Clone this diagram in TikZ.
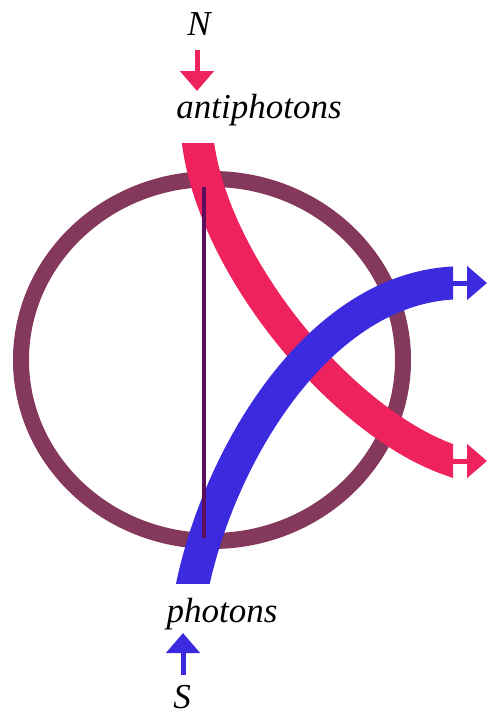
\documentclass[tikz,border=0pt]{standalone}
\usepackage{fontspec}
\setmainfont{Liberation Serif}
\usetikzlibrary{arrows.meta}
\definecolor{ringcol}{RGB}{132,56,92}
\definecolor{antired}{RGB}{238,34,92}
\definecolor{photblue}{RGB}{60,42,222}
\definecolor{axiscol}{RGB}{92,14,92}
\tikzset{
  lbl/.style={font=\fontsize{17.5}{20}\selectfont\itshape, inner sep=0pt, anchor=base},
  band/.style={line width=16pt},
  flowarrow/.style={line width=2.5pt, -{Triangle[length=10pt,width=16.5pt]}}
}
\begin{document}
\begin{tikzpicture}[x=0.5pt,y=-0.5pt]
    \useasboundingbox (0,0) rectangle (491,723);

    % Ring
    \draw[ringcol,line width=8pt] (212,360) ellipse (191 and 181);

    % Antiphoton band from the north
    \coordinate (redIn) at (198,143);
    \coordinate (redOut) at (453,461);
    \coordinate (redTip) at (487,461);
    \begin{scope}
      \clip (0,143) rectangle (453,723);
      \draw[antired,band] (196.7,133) -- (redIn) .. controls (215,270) and (345,425) .. (redOut) -- (467,466);
    \end{scope}
    \draw[antired,flowarrow] (redOut) -- (redTip);

    % Photon band from the south
    \coordinate (blueIn) at (193,583);
    \coordinate (blueOut) at (453,283);
    \coordinate (blueTip) at (487,283);
    \begin{scope}
      \clip (0,0) rectangle (453,583);
      \draw[photblue,band,line width=16.5pt] (190.9,593) -- (blueIn) .. controls (222,450) and (320,290) .. (blueOut) -- (468,282.2);
    \end{scope}
    \draw[photblue,flowarrow] (blueOut) -- (blueTip);

    % Axis
    \coordinate (axTop) at (204,187);
    \coordinate (axBot) at (204,538);
    \draw[axiscol,line width=1.6pt] (axTop) -- (axBot);

    % Labels
    \node[lbl] (north) at (199,35) {N};
    \node[lbl] (anti) at (259,118) {antiphotons};
    \node[lbl] (phot) at (222,622) {photons};
    \node[lbl] (south) at (182,708) {S};

    % Small arrows
    \coordinate (nTail) at (197,50);
    \coordinate (nTip) at (197,91);
    \draw[antired,flowarrow] (nTail) -- (nTip);
    \coordinate (sTail) at (183,675);
    \coordinate (sTip) at (183,633);
    \draw[photblue,flowarrow] (sTail) -- (sTip);
\end{tikzpicture}
\end{document}
